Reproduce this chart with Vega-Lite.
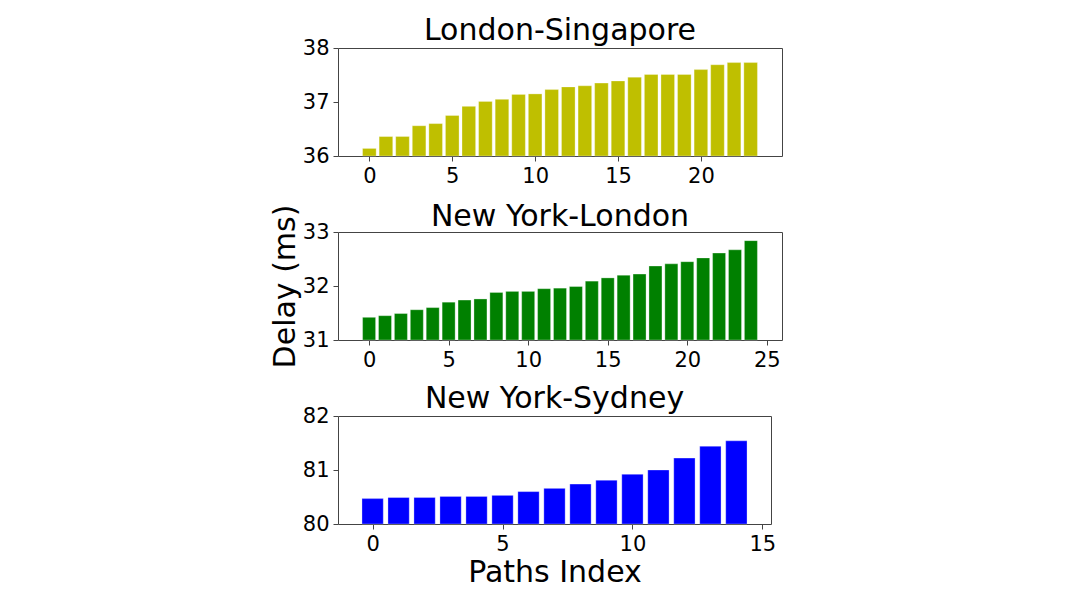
{
  "$schema": "https://vega.github.io/schema/vega-lite/v6.json",
  "background": "white",
  "padding": {"left": 269, "top": 15, "right": 5, "bottom": 5},
  "bounds": "flush",
  "spacing": 76,
  "config": {
    "font": "DejaVu Sans",
    "view": {"stroke": "#444", "strokeWidth": 1},
    "axis": {
      "grid": false,
      "domain": false,
      "tickColor": "#444",
      "tickSize": 5,
      "tickWidth": 1,
      "labelFont": "DejaVu Sans",
      "labelFontSize": 21,
      "labelColor": "black",
      "labelPadding": 4,
      "labelOverlap": false,
      "labelFlush": false,
      "titleFont": "DejaVu Sans",
      "titleFontSize": 30,
      "titleFontWeight": "normal",
      "titleColor": "black"
    },
    "title": {"font": "DejaVu Sans", "fontSize": 30, "fontWeight": "normal", "color": "black", "offset": -9, "frame": "group"}
  },
  "datasets": {
    "ls": [
      {"path": 0, "delay": 36.14}, {"path": 1, "delay": 36.36}, {"path": 2, "delay": 36.36},
      {"path": 3, "delay": 36.56}, {"path": 4, "delay": 36.6}, {"path": 5, "delay": 36.75},
      {"path": 6, "delay": 36.92}, {"path": 7, "delay": 37.01}, {"path": 8, "delay": 37.05},
      {"path": 9, "delay": 37.14}, {"path": 10, "delay": 37.15}, {"path": 11, "delay": 37.23},
      {"path": 12, "delay": 37.28}, {"path": 13, "delay": 37.3}, {"path": 14, "delay": 37.35},
      {"path": 15, "delay": 37.39}, {"path": 16, "delay": 37.46}, {"path": 17, "delay": 37.51},
      {"path": 18, "delay": 37.51}, {"path": 19, "delay": 37.51}, {"path": 20, "delay": 37.6},
      {"path": 21, "delay": 37.69}, {"path": 22, "delay": 37.73}, {"path": 23, "delay": 37.73}
    ],
    "nyl": [
      {"path": 0, "delay": 31.42}, {"path": 1, "delay": 31.45}, {"path": 2, "delay": 31.49},
      {"path": 3, "delay": 31.56}, {"path": 4, "delay": 31.6}, {"path": 5, "delay": 31.7},
      {"path": 6, "delay": 31.74}, {"path": 7, "delay": 31.76}, {"path": 8, "delay": 31.88},
      {"path": 9, "delay": 31.9}, {"path": 10, "delay": 31.9}, {"path": 11, "delay": 31.95},
      {"path": 12, "delay": 31.96}, {"path": 13, "delay": 31.99}, {"path": 14, "delay": 32.09},
      {"path": 15, "delay": 32.15}, {"path": 16, "delay": 32.2}, {"path": 17, "delay": 32.22},
      {"path": 18, "delay": 32.37}, {"path": 19, "delay": 32.41}, {"path": 20, "delay": 32.45},
      {"path": 21, "delay": 32.52}, {"path": 22, "delay": 32.61}, {"path": 23, "delay": 32.67},
      {"path": 24, "delay": 32.84}
    ],
    "nys": [
      {"path": 0, "delay": 80.47}, {"path": 1, "delay": 80.49}, {"path": 2, "delay": 80.49},
      {"path": 3, "delay": 80.51}, {"path": 4, "delay": 80.51}, {"path": 5, "delay": 80.53},
      {"path": 6, "delay": 80.6}, {"path": 7, "delay": 80.66}, {"path": 8, "delay": 80.74},
      {"path": 9, "delay": 80.81}, {"path": 10, "delay": 80.92}, {"path": 11, "delay": 81.0},
      {"path": 12, "delay": 81.22}, {"path": 13, "delay": 81.44}, {"path": 14, "delay": 81.54}
    ]
  },
  "vconcat": [
    {
      "title": "London-Singapore",
      "width": 444,
      "height": 108,
      "data": {"name": "ls"},
      "mark": {"type": "bar", "color": "#bfbf00", "size": 13.6, "stroke": "white", "strokeWidth": 0.5, "strokeOpacity": 0.6},
      "encoding": {
        "x": {"field": "path", "type": "quantitative", "title": null,
              "scale": {"domain": [-1.59, 24.59], "nice": false, "zero": false},
              "axis": {"values": [0, 5, 10, 15, 20], "format": ".0f", "labelOverlap": false}},
        "y": {"field": "delay", "type": "quantitative", "title": null,
              "scale": {"domain": [36, 38], "nice": false, "zero": false},
              "axis": {"values": [36, 37, 38], "format": ".0f", "labelOverlap": false, "labelFlush": false}},
        "y2": {"datum": 36}
      }
    },
    {
      "title": {"text": "New York-London", "offset": -28},
      "width": 444,
      "height": 108,
      "data": {"name": "nyl"},
      "mark": {"type": "bar", "color": "#008000", "size": 13.0, "stroke": "white", "strokeWidth": 0.5, "strokeOpacity": 0.6},
      "encoding": {
        "x": {"field": "path", "type": "quantitative", "title": null,
              "scale": {"domain": [-1.64, 25.64], "nice": false, "zero": false},
              "axis": {"values": [0, 5, 10, 15, 20, 25], "format": ".0f", "labelOverlap": false}},
        "y": {"field": "delay", "type": "quantitative", "title": "Delay (ms)",
              "scale": {"domain": [31, 33], "nice": false, "zero": false},
              "axis": {"values": [31, 32, 33], "format": ".0f", "titlePadding": 2, "labelOverlap": false, "labelFlush": false}},
        "y2": {"datum": 31}
      }
    },
    {
      "title": "New York-Sydney",
      "width": 433,
      "height": 108,
      "data": {"name": "nys"},
      "mark": {"type": "bar", "color": "#0000ff", "size": 21.3, "stroke": "white", "strokeWidth": 0.5, "strokeOpacity": 0.6},
      "encoding": {
        "x": {"field": "path", "type": "quantitative", "title": "Paths Index",
              "scale": {"domain": [-1.14, 15.14], "nice": false, "zero": false},
              "axis": {"values": [0, 5, 10, 15], "format": ".0f", "titlePadding": 3, "labelOverlap": false}},
        "y": {"field": "delay", "type": "quantitative", "title": null,
              "scale": {"domain": [80, 82], "nice": false, "zero": false},
              "axis": {"values": [80, 81, 82], "format": ".0f", "labelOverlap": false, "labelFlush": false}},
        "y2": {"datum": 80}
      }
    }
  ]
}
